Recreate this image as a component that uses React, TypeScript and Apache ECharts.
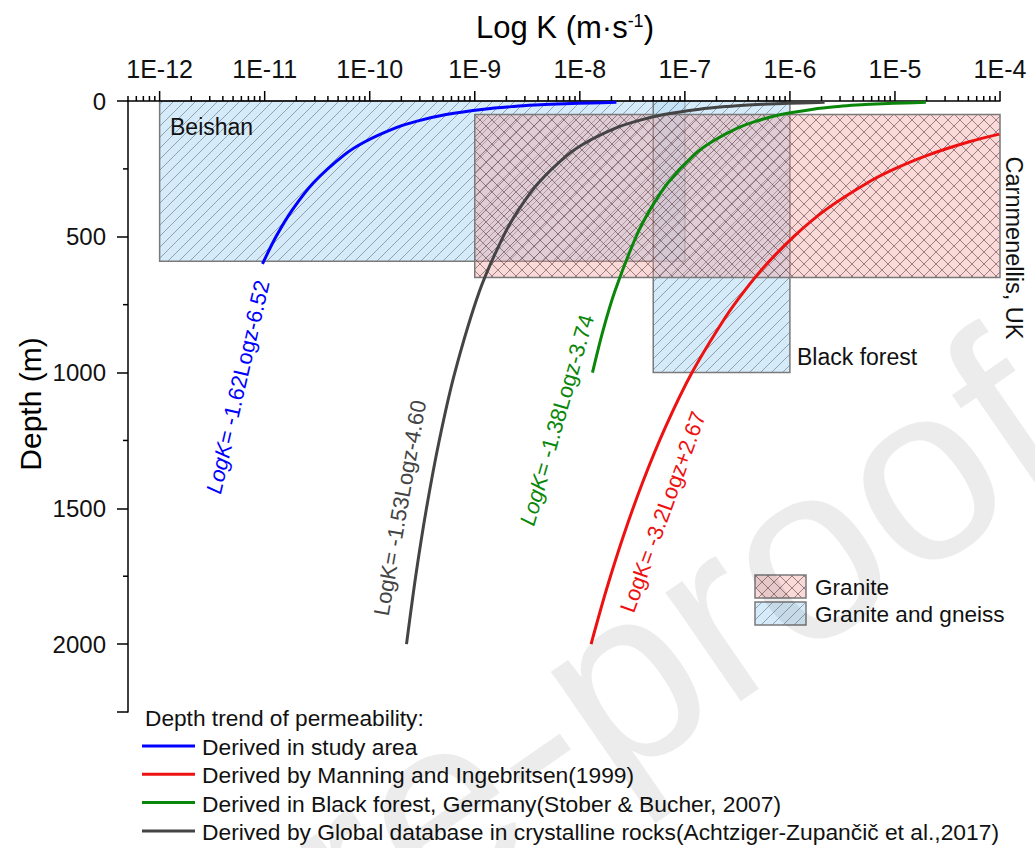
import React, { useEffect, useRef } from "react";
import * as echarts from "echarts";

const FONT = "'Liberation Sans', Arial, Helvetica, sans-serif";

// ---------- data ----------
// Derived in study area: LogK = -1.62 Logz - 6.52
const studyDepth = [5, 7, 10, 15, 20, 30, 50, 75, 100, 150, 200, 300, 400, 500, 600];
const studyK = [2.23e-8, 1.29e-8, 7.24e-9, 3.76e-9, 2.36e-9, 1.22e-9, 5.34e-10, 2.77e-10, 1.74e-10, 9.01e-11, 5.65e-11, 2.93e-11, 1.84e-11, 1.28e-11, 9.53e-12];

// Manning and Ingebritsen (1999): LogK = -3.2 Logz + 2.67
const manningDepth = [122, 150, 200, 250, 300, 400, 500, 600, 700, 800, 1000, 1200, 1400, 1600, 1800, 2000];
const manningK = [9.85e-5, 5.09e-5, 2.03e-5, 9.92e-6, 5.54e-6, 2.2e-6, 1.08e-6, 6.02e-7, 3.68e-7, 2.4e-7, 1.17e-7, 6.55e-8, 4.0e-8, 2.61e-8, 1.79e-8, 1.28e-8];

// Black forest (Stober & Bucher, 2007): LogK = -1.38 Logz - 3.74
const blackForestDepth = [5, 7, 10, 15, 20, 30, 50, 75, 100, 150, 200, 300, 400, 500, 700, 850, 1000];
const blackForestK = [1.97e-5, 1.24e-5, 7.59e-6, 4.34e-6, 2.91e-6, 1.67e-6, 8.23e-7, 4.7e-7, 3.16e-7, 1.81e-7, 1.21e-7, 6.94e-8, 4.67e-8, 3.43e-8, 2.16e-8, 1.65e-8, 1.32e-8];

// Global database in crystalline rocks: LogK = -1.53 Logz - 4.60
const globalDepth = [5, 7, 10, 15, 20, 30, 50, 75, 100, 150, 200, 300, 400, 500, 700, 1000, 1250, 1500, 1750, 2000];
const globalK = [2.14e-6, 1.28e-6, 7.41e-7, 3.99e-7, 2.57e-7, 1.38e-7, 6.32e-8, 3.4e-8, 2.19e-8, 1.18e-8, 7.57e-9, 4.07e-9, 2.62e-9, 1.86e-9, 1.11e-9, 6.46e-10, 4.59e-10, 3.47e-10, 2.74e-10, 2.24e-10];

// Permeability ranges (boxes)
const zoneNames = ["Beishan", "Black forest", "Carnmenellis, UK"];
const zoneKMin = [1e-12, 5e-8, 1e-9];
const zoneKMax = [1e-7, 1e-6, 1e-4];
const zoneDepthTop = [0, 0, 50];
const zoneDepthBottom = [590, 1000, 650];
const zoneRock = [1, 1, 0]; // 0 = Granite, 1 = Granite and gneiss

const curveNames = [
  "Derived in study area",
  "Derived by Manning and Ingebritsen(1999)",
  "Derived in Black forest, Germany(Stober & Bucher, 2007)",
  "Derived by Global database in crystalline rocks(Achtziger-Zupančič et al.,2017)",
];
const curveColors = ["#0000ff", "#ee1111", "#0a870a", "#444444"];
const curveDepths = [studyDepth, manningDepth, blackForestDepth, globalDepth];
const curveKs = [studyK, manningK, blackForestK, globalK];

const equationParts = [
  ["LogK", "= -1.62Logz-6.52"],
  ["LogK", "= -3.2Logz+2.67"],
  ["LogK", "= -1.38Logz-3.74"],
  ["LogK", "= -1.53Logz-4.60"],
];
const equationItalic = [true, false, true, false];

const rockNames = ["Granite", "Granite and gneiss"];

// axis ticks
const xMajorTicks = [1e-12, 1e-11, 1e-10, 1e-9, 1e-8, 1e-7, 1e-6, 1e-5, 1e-4];
const xMinorMultipliers = [2, 3, 4, 5, 6, 7, 8, 9];
const xMinorDecades = [-13, -12, -11, -10, -9, -8, -7, -6, -5];
const yMinorTicks = [250, 750, 1250, 1750];

const X_MIN = 5e-13;
const X_MAX = 1e-4;
const Y_MAX = 2250;

// ---------- styling ----------
const ROCK_FILL = ["rgba(240,150,150,0.36)", "rgba(185,222,245,0.6)"];
const ROCK_HATCH = ["rgba(70,40,45,0.65)", "rgba(70,80,90,0.6)"];

function hatch(L: number, T: number, R: number, B: number, step: number, fwd: boolean, back: boolean, stroke: string) {
  const out: any[] = [];
  if (fwd) {
    const c0 = Math.ceil((L + T) / step) * step;
    for (let c = c0; c <= R + B; c += step) {
      const xa = Math.max(L, c - B);
      const xb = Math.min(R, c - T);
      if (xb - xa > 0.5) out.push({ type: "line", shape: { x1: xa, y1: c - xa, x2: xb, y2: c - xb }, style: { stroke, lineWidth: 0.8 } });
    }
  }
  if (back) {
    const c0 = Math.ceil((L - B) / step) * step;
    for (let c = c0; c <= R - T; c += step) {
      const xa = Math.max(L, c + T);
      const xb = Math.min(R, c + B);
      if (xb - xa > 0.5) out.push({ type: "line", shape: { x1: xa, y1: xa - c, x2: xb, y2: xb - c }, style: { stroke, lineWidth: 0.8 } });
    }
  }
  return out;
}

function boxGroup(L: number, T: number, R: number, B: number, rock: number) {
  const children: any[] = [];
  children.push({ type: "rect", shape: { x: L, y: T, width: R - L, height: B - T }, style: { fill: ROCK_FILL[rock], stroke: "none" } });
  if (rock === 0) children.push(...hatch(L, T, R, B, 12, true, true, ROCK_HATCH[0]));
  else children.push(...hatch(L, T, R, B, 11, true, false, ROCK_HATCH[1]));
  children.push({ type: "rect", shape: { x: L, y: T, width: R - L, height: B - T }, style: { fill: "none", stroke: "#7a7a7a", lineWidth: 1.5 } });
  return children;
}

function buildOption() {
  const zoneData = zoneNames.map((_, i) => [zoneKMin[i], zoneKMax[i], zoneDepthTop[i], zoneDepthBottom[i], zoneRock[i]]);

  const tickData: number[][] = [];
  xMajorTicks.forEach((v) => tickData.push([v, 0, 10, 0]));
  xMinorDecades.forEach((d) =>
    xMinorMultipliers.forEach((m) => {
      const v = m * Math.pow(10, d);
      if (v >= X_MIN * 0.999 && v < X_MAX) tickData.push([v, 0, 5, 0]);
    })
  );
  yMinorTicks.forEach((v) => tickData.push([X_MIN, v, 5, 1]));

  const lineSeries = curveNames.map((name, i) => ({
    name,
    type: "line",
    data: curveDepths[i].map((d, j) => [curveKs[i][j], d]),
    showSymbol: false,
    symbol: "none",
    smooth: 0.3,
    lineStyle: { color: curveColors[i], width: 3 },
    itemStyle: { color: curveColors[i] },
    z: 4,
    silent: true,
  }));

  const graphics: any[] = [];
  // axis titles
  graphics.push({
    type: "text",
    x: 565,
    y: 27,
    style: {
      text: "{a|Log K (m·s}{b|-1}{a|)}",
      textAlign: "center",
      textVerticalAlign: "middle",
      rich: {
        a: { fontSize: 31, fontFamily: FONT, fill: "#000" },
        b: { fontSize: 18, fontFamily: FONT, fill: "#000", verticalAlign: "top" },
      },
    },
  });
  graphics.push({
    type: "text",
    x: 30,
    y: 404,
    rotation: Math.PI / 2,
    style: { text: "Depth (m)", fontSize: 30, fontFamily: FONT, fill: "#000", textAlign: "center", textVerticalAlign: "middle" },
  });

  // zone labels
  const zoneLabelPos = [
    { x: 170, y: 127, r: 0, a: "left", s: 23 },
    { x: 797, y: 357, r: 0, a: "left", s: 23 },
    { x: 1014, y: 248, r: -Math.PI / 2, a: "center", s: 23.5 },
  ];
  zoneNames.forEach((n, i) => {
    const p = zoneLabelPos[i];
    graphics.push({
      type: "text",
      x: p.x,
      y: p.y,
      rotation: p.r,
      z: 10,
      style: { text: n, fontSize: p.s, fontFamily: FONT, fill: "#111", textAlign: p.a, textVerticalAlign: "middle" },
    });
  });

  // equation labels
  const eqPos = [
    { x: 238, y: 387, r: 77 },
    { x: 663, y: 512, r: 70 },
    { x: 557, y: 420, r: 74 },
    { x: 400, y: 508, r: 80 },
  ];
  equationParts.forEach((parts, i) => {
    const p = eqPos[i];
    graphics.push({
      type: "text",
      x: p.x,
      y: p.y,
      rotation: (p.r * Math.PI) / 180,
      z: 10,
      style: {
        text: `{i|${parts[0]}}{n|${parts[1]}}`,
        textAlign: "center",
        textVerticalAlign: "middle",
        rich: {
          i: { fontSize: 22, fontFamily: FONT, fill: curveColors[i], fontStyle: equationItalic[i] ? "italic" : "normal" },
          n: { fontSize: 22, fontFamily: FONT, fill: curveColors[i] },
        },
      },
    });
  });

  // rock legend
  rockNames.forEach((n, i) => {
    const L = 755, T = 575 + i * 27, W = 51, H = 23;
    graphics.push({ type: "group", z: 10, children: boxGroup(L, T, L + W, T + H, i) });
    graphics.push({
      type: "text",
      x: 815,
      y: T + H / 2 + 1,
      z: 10,
      style: { text: n, fontSize: 22.6, fontFamily: FONT, fill: "#111", textAlign: "left", textVerticalAlign: "middle" },
    });
  });

  // curve legend
  graphics.push({
    type: "text",
    x: 145,
    y: 718,
    z: 10,
    style: { text: "Depth trend of permeability:", fontSize: 22.7, fontFamily: FONT, fill: "#111", textAlign: "left", textVerticalAlign: "middle" },
  });
  curveNames.forEach((n, i) => {
    const y = 746 + i * 28.3;
    graphics.push({ type: "line", z: 10, shape: { x1: 142, y1: y, x2: 195, y2: y }, style: { stroke: curveColors[i], lineWidth: 3 } });
    graphics.push({
      type: "text",
      x: 202,
      y: y + 1,
      z: 10,
      style: { text: n, fontSize: 22.8, fontFamily: FONT, fill: "#111", textAlign: "left", textVerticalAlign: "middle" },
    });
  });

  // watermark
  graphics.push({
    type: "text",
    x: 1103,
    y: 498,
    rotation: 0.604,
    z: 100,
    silent: true,
    style: { text: "Journal Pre-proof", fontSize: 250, fontFamily: FONT, fill: "rgba(0,0,0,0.075)", textAlign: "right", textVerticalAlign: "bottom" },
  });

  return {
    animation: false,
    backgroundColor: "#ffffff",
    grid: { left: 128, right: 35, top: 101, bottom: 136, containLabel: false },
    xAxis: {
      type: "log",
      logBase: 10,
      position: "top",
      min: X_MIN,
      max: X_MAX,
      z: 3,
      axisLine: { show: true, onZero: false, lineStyle: { color: "#000", width: 1.5 } },
      axisTick: { show: false },
      splitLine: { show: false },
      minorTick: { show: false },
      axisLabel: {
        show: true,
        margin: 20,
        fontSize: 25,
        fontFamily: FONT,
        color: "#111",
        formatter: (v: number) => {
          const e = Math.log10(v);
          if (Math.abs(e - Math.round(e)) > 0.01) return "";
          return "1E" + Math.round(e);
        },
      },
    },
    yAxis: {
      type: "value",
      inverse: true,
      min: 0,
      max: Y_MAX,
      interval: 500,
      z: 3,
      axisLine: { show: true, onZero: false, lineStyle: { color: "#000", width: 1.5 } },
      axisTick: { show: true, length: 11, inside: false, lineStyle: { color: "#000", width: 1.5 } },
      minorTick: { show: false },
      splitLine: { show: false },
      axisLabel: {
        margin: 22,
        fontSize: 24,
        fontFamily: FONT,
        color: "#111",
        formatter: (v: number) => (v % 500 === 0 ? String(v) : ""),
      },
    },
    series: [
      {
        type: "custom",
        name: "zones",
        z: 1,
        silent: true,
        encode: { x: [0, 1], y: [2, 3] },
        data: zoneData,
        renderItem: (params: any, api: any) => {
          const p0 = api.coord([api.value(0), api.value(2)]);
          const p1 = api.coord([api.value(1), api.value(3)]);
          const L = Math.min(p0[0], p1[0]);
          const R = Math.max(p0[0], p1[0]);
          const T = Math.min(p0[1], p1[1]);
          const B = Math.max(p0[1], p1[1]);
          return { type: "group", children: boxGroup(L, T, R, B, api.value(4)) };
        },
      },
      ...lineSeries,
      {
        type: "custom",
        name: "ticks",
        z: 5,
        silent: true,
        clip: false,
        encode: { x: 0, y: 1 },
        data: tickData,
        renderItem: (params: any, api: any) => {
          const p = api.coord([api.value(0), api.value(1)]);
          const len = api.value(2);
          const dir = api.value(3);
          const shape = dir === 0 ? { x1: p[0], y1: p[1], x2: p[0], y2: p[1] - len } : { x1: p[0] - len, y1: p[1], x2: p[0], y2: p[1] };
          return { type: "line", shape, style: { stroke: "#000", lineWidth: 1.5 } };
        },
      },
    ],
    graphic: { elements: graphics },
  };
}

export default function App() {
  const ref = useRef<HTMLDivElement>(null);
  useEffect(() => {
    if (!ref.current) return;
    const chart = echarts.init(ref.current, null, { renderer: "svg" });
    chart.setOption(buildOption() as any);
    return () => chart.dispose();
  }, []);
  return <div ref={ref} style={{ position: "absolute", left: 0, top: 0, width: 1035, height: 848, background: "#fff" }} />;
}
